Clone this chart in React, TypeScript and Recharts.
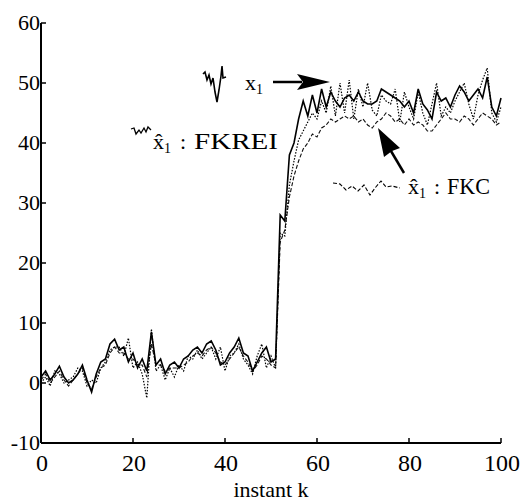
import { Label, Line, LineChart, XAxis, YAxis } from "recharts";

// instants k = 0..100
const instants: number[] = Array.from({ length: 101 }, (_, i) => i);

// true state x1
const x1: number[] = [
  1.0, 2.0, 0.5, 1.5, 2.8, 1.0, 0.0, 0.5, 1.5, 3.0,
  0.5, -1.5, 1.5, 3.5, 4.0, 6.5, 7.3, 5.5, 6.0, 3.5,
  5.0, 2.5, 4.0, 2.0, 8.5, 3.0, 4.0, 1.5, 3.0, 3.5,
  2.5, 4.0, 4.5, 5.5, 6.0, 5.0, 6.5, 7.0, 5.5, 3.0,
  3.5, 5.0, 6.0, 7.5, 5.0, 4.5, 2.0, 3.5, 5.0, 6.0,
  3.5, 4.0, 28.0, 27.0, 38.0, 40.0, 44.0, 47.0, 44.5, 48.0,
  45.0, 49.0, 46.0, 48.5, 47.0, 46.0, 47.5, 48.0, 47.0, 48.5,
  47.0, 46.5, 46.5, 47.0, 49.0, 48.5, 48.0, 47.5, 47.0, 46.0,
  47.0, 45.0, 49.0, 46.5, 45.5, 44.0, 48.5, 47.0, 47.5, 46.0,
  48.0, 49.5, 48.5, 47.0, 48.0, 49.0, 47.5, 51.0, 46.0, 44.5,
  47.5,
];

// estimate x̂1 : FKREI
const fkrei: number[] = [
  0.0, 1.0, -0.5, 2.0, 1.5, 0.0, 0.5, 1.0, 2.5, 2.0,
  -0.5, 0.5, 0.0, 2.5, 3.5, 5.5, 6.0, 6.0, 4.5, 7.5,
  2.5, 3.5, 1.5, -2.5, 9.0, 2.0, 3.0, 0.5, 2.5, 1.0,
  3.0, 2.0, 4.5, 4.0, 5.5, 4.0, 5.0, 6.0, 4.0, 6.0,
  2.0, 4.5, 5.0, 6.5, 4.0, 3.0, 1.5, 4.5, 6.5, 2.5,
  4.5, 2.5, 25.0, 24.5, 33.0, 37.0, 40.5, 42.0, 43.5, 45.0,
  44.0, 47.0, 45.0, 49.5, 44.5, 50.0, 45.0, 50.5, 44.0, 49.0,
  46.0, 50.0, 45.5, 44.5, 48.0, 47.0, 46.5, 49.0, 43.5, 48.5,
  46.0, 44.0, 48.5, 45.0, 43.0, 46.5, 50.0, 44.5, 46.0, 45.0,
  47.0, 48.5, 50.0, 46.5, 44.0, 48.0, 50.5, 52.5, 45.0, 43.5,
  46.0,
];

// estimate x̂1 : FKC
const fkc: number[] = [
  0.5, 1.5, 0.0, 1.0, 2.0, 0.5, -0.5, 0.5, 1.5, 2.5,
  0.0, -1.0, 1.0, 2.5, 3.0, 5.0, 6.0, 5.0, 5.0, 4.0,
  4.0, 3.0, 3.0, 1.0, 6.5, 3.0, 3.0, 2.0, 2.5, 2.5,
  2.5, 3.0, 3.5, 4.5, 5.0, 4.5, 5.5, 6.0, 5.0, 3.5,
  3.0, 4.0, 5.0, 6.0, 4.5, 3.5, 2.0, 3.0, 4.5, 4.0,
  3.0, 2.5, 23.5, 25.5, 31.0, 34.5, 37.0, 39.0, 40.0, 41.5,
  41.0, 42.5, 43.0, 44.0, 43.5, 44.0, 44.5, 44.0, 44.5, 43.5,
  44.0, 43.0, 42.5, 43.5, 44.0, 45.0, 44.5, 43.5, 44.0, 43.0,
  44.0, 43.0, 43.5, 43.0, 42.0, 42.0, 43.0, 44.0, 45.0, 44.0,
  44.0, 43.5, 44.5, 44.0, 43.0, 44.0, 45.0, 44.5, 44.0, 43.0,
  43.5,
];

const xTicks = [0, 20, 40, 60, 80, 100];
const yTicks = [-10, 0, 10, 20, 30, 40, 50, 60];

const data = instants.map((k, i) => ({ k, x1: x1[i], fkrei: fkrei[i], fkc: fkc[i] }));

const FONT = '"Liberation Serif", "DejaVu Serif", "Times New Roman", serif';

function YTick({ x, y, payload }: any) {
  return (
    <g>
      <line x1={x} x2={x + 5} y1={y} y2={y} stroke="#000" strokeWidth={1.5} />
      <text x={x - 1} y={y + 7} textAnchor="end" fontSize={22} fontFamily={FONT} fill="#000">
        {payload.value}
      </text>
    </g>
  );
}

function XTick({ x, y, payload }: any) {
  return (
    <g>
      <line x1={x} x2={x} y1={y} y2={y - 5} stroke="#000" strokeWidth={1.5} />
      <text x={x + 1} y={y + 28} textAnchor="middle" fontSize={24} fontFamily={FONT} fill="#000">
        {payload.value}
      </text>
    </g>
  );
}

// x (optionally with hat) and subscript 1
function XSym({ x, y, hat }: { x: number; y: number; hat: boolean }) {
  return (
    <text x={x} y={y} fontSize={22} fontFamily={FONT} fill="#000">
      {hat ? "x\u0302" : "x"}
      <tspan fontSize={14} dy={4}>
        1
      </tspan>
    </text>
  );
}

function Annotations() {
  return (
    <svg
      width={525}
      height={502}
      style={{ position: "absolute", left: 0, top: 0, pointerEvents: "none" }}
    >
      {/* x1 legend */}
      <path
        d="M203,74 L205,72 L207,80 L209,75 L211,84 L213,78 L215,92 L217,102 L219,90 L221,76 L222,66 L223,78 L226,77"
        fill="none"
        stroke="#000"
        strokeWidth={1.6}
      />
      <XSym x={245} y={90} hat={false} />
      <line x1={273} y1={82} x2={302} y2={82} stroke="#000" strokeWidth={2.5} />
      <polygon points="297,74 330,82 297,90 303,82" fill="#000" />

      {/* FKREI legend */}
      <path
        d="M131,129 L134,128 L136,134 L139,130 L141,133 L144,128 L146,132 L148,127 L151,130"
        fill="none"
        stroke="#000"
        strokeWidth={1.3}
      />
      <XSym x={153} y={149} hat={true} />
      <text x={180} y={149} fontSize={22} fontFamily={FONT} fill="#000">
        :
      </text>
      <text
        x={194}
        y={149}
        fontSize={24}
        fontFamily={FONT}
        fill="#000"
        textLength={84}
        lengthAdjust="spacingAndGlyphs"
      >
        FKREI
      </text>

      {/* FKC legend */}
      <path
        d="M333,183 L340,184 L346,190 L352,186 L358,191 L364,185 L370,195 L375,188 L381,181 L386,187 L392,186 L400,188"
        fill="none"
        stroke="#000"
        strokeWidth={1.1}
        strokeDasharray="4 2"
      />
      <XSym x={408} y={194} hat={true} />
      <text x={434} y={194} fontSize={22} fontFamily={FONT} fill="#000">
        :
      </text>
      <text
        x={447}
        y={194}
        fontSize={23}
        fontFamily={FONT}
        fill="#000"
        textLength={43}
        lengthAdjust="spacingAndGlyphs"
      >
        FKC
      </text>
      <line x1={404} y1={173} x2={388} y2={146} stroke="#000" strokeWidth={2.5} />
      <polygon points="378,128 400,148 392,151 384,157" fill="#000" />
    </svg>
  );
}

export default function App() {
  return (
    <div style={{ position: "absolute", left: 0, top: 0, width: 525, height: 502, background: "#fff" }}>
      <LineChart width={525} height={502} data={data} margin={{ top: 23, right: 24, bottom: 0, left: 0 }}>
        <XAxis
          dataKey="k"
          type="number"
          domain={[0, 100]}
          ticks={xTicks}
          height={59}
          axisLine={{ stroke: "#000", strokeWidth: 2 }}
          tickLine={false}
          tickSize={0}
          tickMargin={0}
          tick={<XTick />}
          interval={0}
        >
          <Label
            value="instant k"
            position="insideBottom"
            offset={5}
            style={{ fontSize: 22, fontFamily: FONT, fill: "#000" }}
          />
        </XAxis>
        <YAxis
          type="number"
          domain={[-10, 60]}
          ticks={yTicks}
          width={41}
          axisLine={{ stroke: "#000", strokeWidth: 2 }}
          tickLine={false}
          tickSize={0}
          tickMargin={0}
          tick={<YTick />}
          interval={0}
          allowDataOverflow
        />
        <Line
          type="linear"
          dataKey="fkc"
          stroke="#111"
          strokeWidth={1.1}
          strokeDasharray="4 2"
          dot={false}
          isAnimationActive={false}
        />
        <Line
          type="linear"
          dataKey="fkrei"
          stroke="#000"
          strokeWidth={1.2}
          strokeDasharray="1.5 1.5"
          dot={false}
          isAnimationActive={false}
        />
        <Line
          type="linear"
          dataKey="x1"
          stroke="#000"
          strokeWidth={1.6}
          dot={false}
          isAnimationActive={false}
        />
      </LineChart>
      <Annotations />
    </div>
  );
}
